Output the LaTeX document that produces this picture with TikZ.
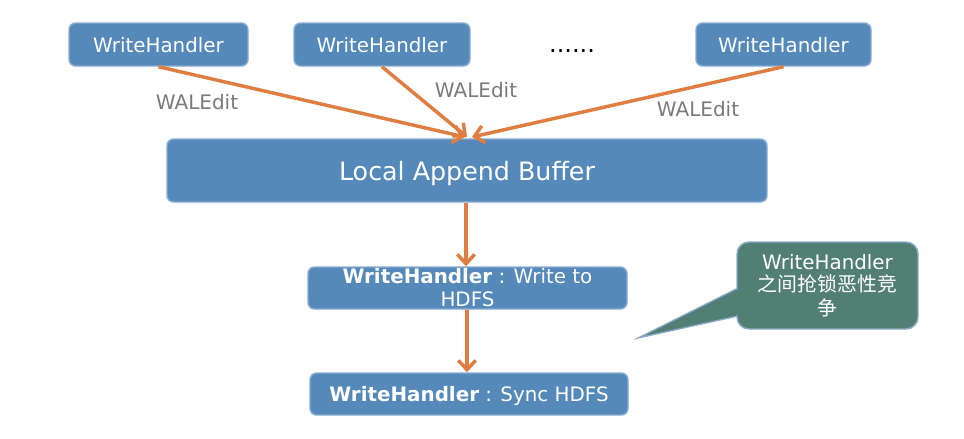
\documentclass[tikz,border=0pt]{standalone}
\usepackage{fontspec}
\setmainfont{DejaVu Sans}
\newfontfamily\cjk{Noto Sans CJK SC}
\usetikzlibrary{arrows.meta}
\definecolor{boxfill}{HTML}{5489BA}
\definecolor{boxedge}{HTML}{88ACD2}
\definecolor{arrowc}{HTML}{DF7E40}
\definecolor{labelgray}{HTML}{7A7A7A}
\definecolor{callfill}{HTML}{527F73}
\definecolor{calledge}{HTML}{8EAACB}
\begin{document}
\begin{tikzpicture}[x=0.75pt,y=-0.75pt,
  wbox/.style={draw=boxedge, line width=1.1pt, fill=boxfill, rounded corners=5pt,
    text=white, inner sep=0pt, align=center, font=\fontsize{14.9}{17.3}\selectfont},
  flow/.style={draw=arrowc, line width=2.6pt, -{Straight Barb[length=7pt,width=13pt]}},
  lbl/.style={text=labelgray, inner sep=0pt, font=\fontsize{15}{17}\selectfont}]
\useasboundingbox (0,0) rectangle (964,439);

% top WriteHandler boxes
\node[wbox, minimum width=179*0.75pt, minimum height=43*0.75pt, text depth=0pt] (w1) at (158.5,44.5) {WriteHandler};
\node[wbox, minimum width=176*0.75pt, minimum height=43*0.75pt, text depth=0pt] (w2) at (382,44.5) {WriteHandler};
\node[wbox, minimum width=175*0.75pt, minimum height=43*0.75pt, text depth=0pt] (w3) at (783.5,44.5) {WriteHandler};
\node[inner sep=0pt, anchor=base, font=\fontsize{18}{20}\selectfont] (dots) at (572,52) {......};

% Local Append Buffer
\node[wbox, minimum width=600*0.75pt, minimum height=63*0.75pt, text depth=0pt, font=\fontsize{19}{22}\selectfont] (lab) at (467,170.5) {Local Append Buffer};

% lower boxes
\node[wbox, minimum width=319*0.75pt, minimum height=42*0.75pt] (mid) at (467.5,288) {\textbf{WriteHandler} : Write to\\HDFS};
\node[wbox, minimum width=318*0.75pt, minimum height=42*0.75pt, text depth=0pt] (bot) at (469,394) {\textbf{WriteHandler} : Sync HDFS};

% WALEdit labels
\node[lbl] (l1) at (197,102) {WALEdit};
\node[lbl] (l2) at (476,90) {WALEdit};
\node[lbl] (l3) at (698,109) {WALEdit};

% arrows into buffer
\coordinate (e1) at (465,137);
\coordinate (e2) at (467,137);
\coordinate (e3) at (472,137);
\draw[flow] (w1.south) -- (e1);
\draw[flow] (w2.south) -- (e2);
\draw[flow] (w3.south) -- (e3);

% vertical arrows
\draw[flow] (lab.south -| 466,0) -- (mid.north -| 466,0);
\draw[flow] (mid.south -| 467,0) -- (bot.north -| 467,0);

% callout
\coordinate (tip) at (638,338);
\filldraw[fill=callfill, draw=calledge, line width=1pt, line join=miter] (738,288) -- (tip) -- (738,316) -- cycle;
\node[draw=calledge, line width=1.1pt, fill=callfill, rounded corners=9pt,
  minimum width=181*0.75pt, minimum height=87*0.75pt, text=white, align=center, inner sep=0pt,
  font=\fontsize{14.9}{18}\selectfont] (call) at (827.5,285.5)
  {\raisebox{-1.5pt}{WriteHandler}\\{\cjk 之间抢锁恶性竞}\\{\cjk 争}};
\fill[callfill] (735,289.5) rectangle (741,314.5);
\end{tikzpicture}
\end{document}
